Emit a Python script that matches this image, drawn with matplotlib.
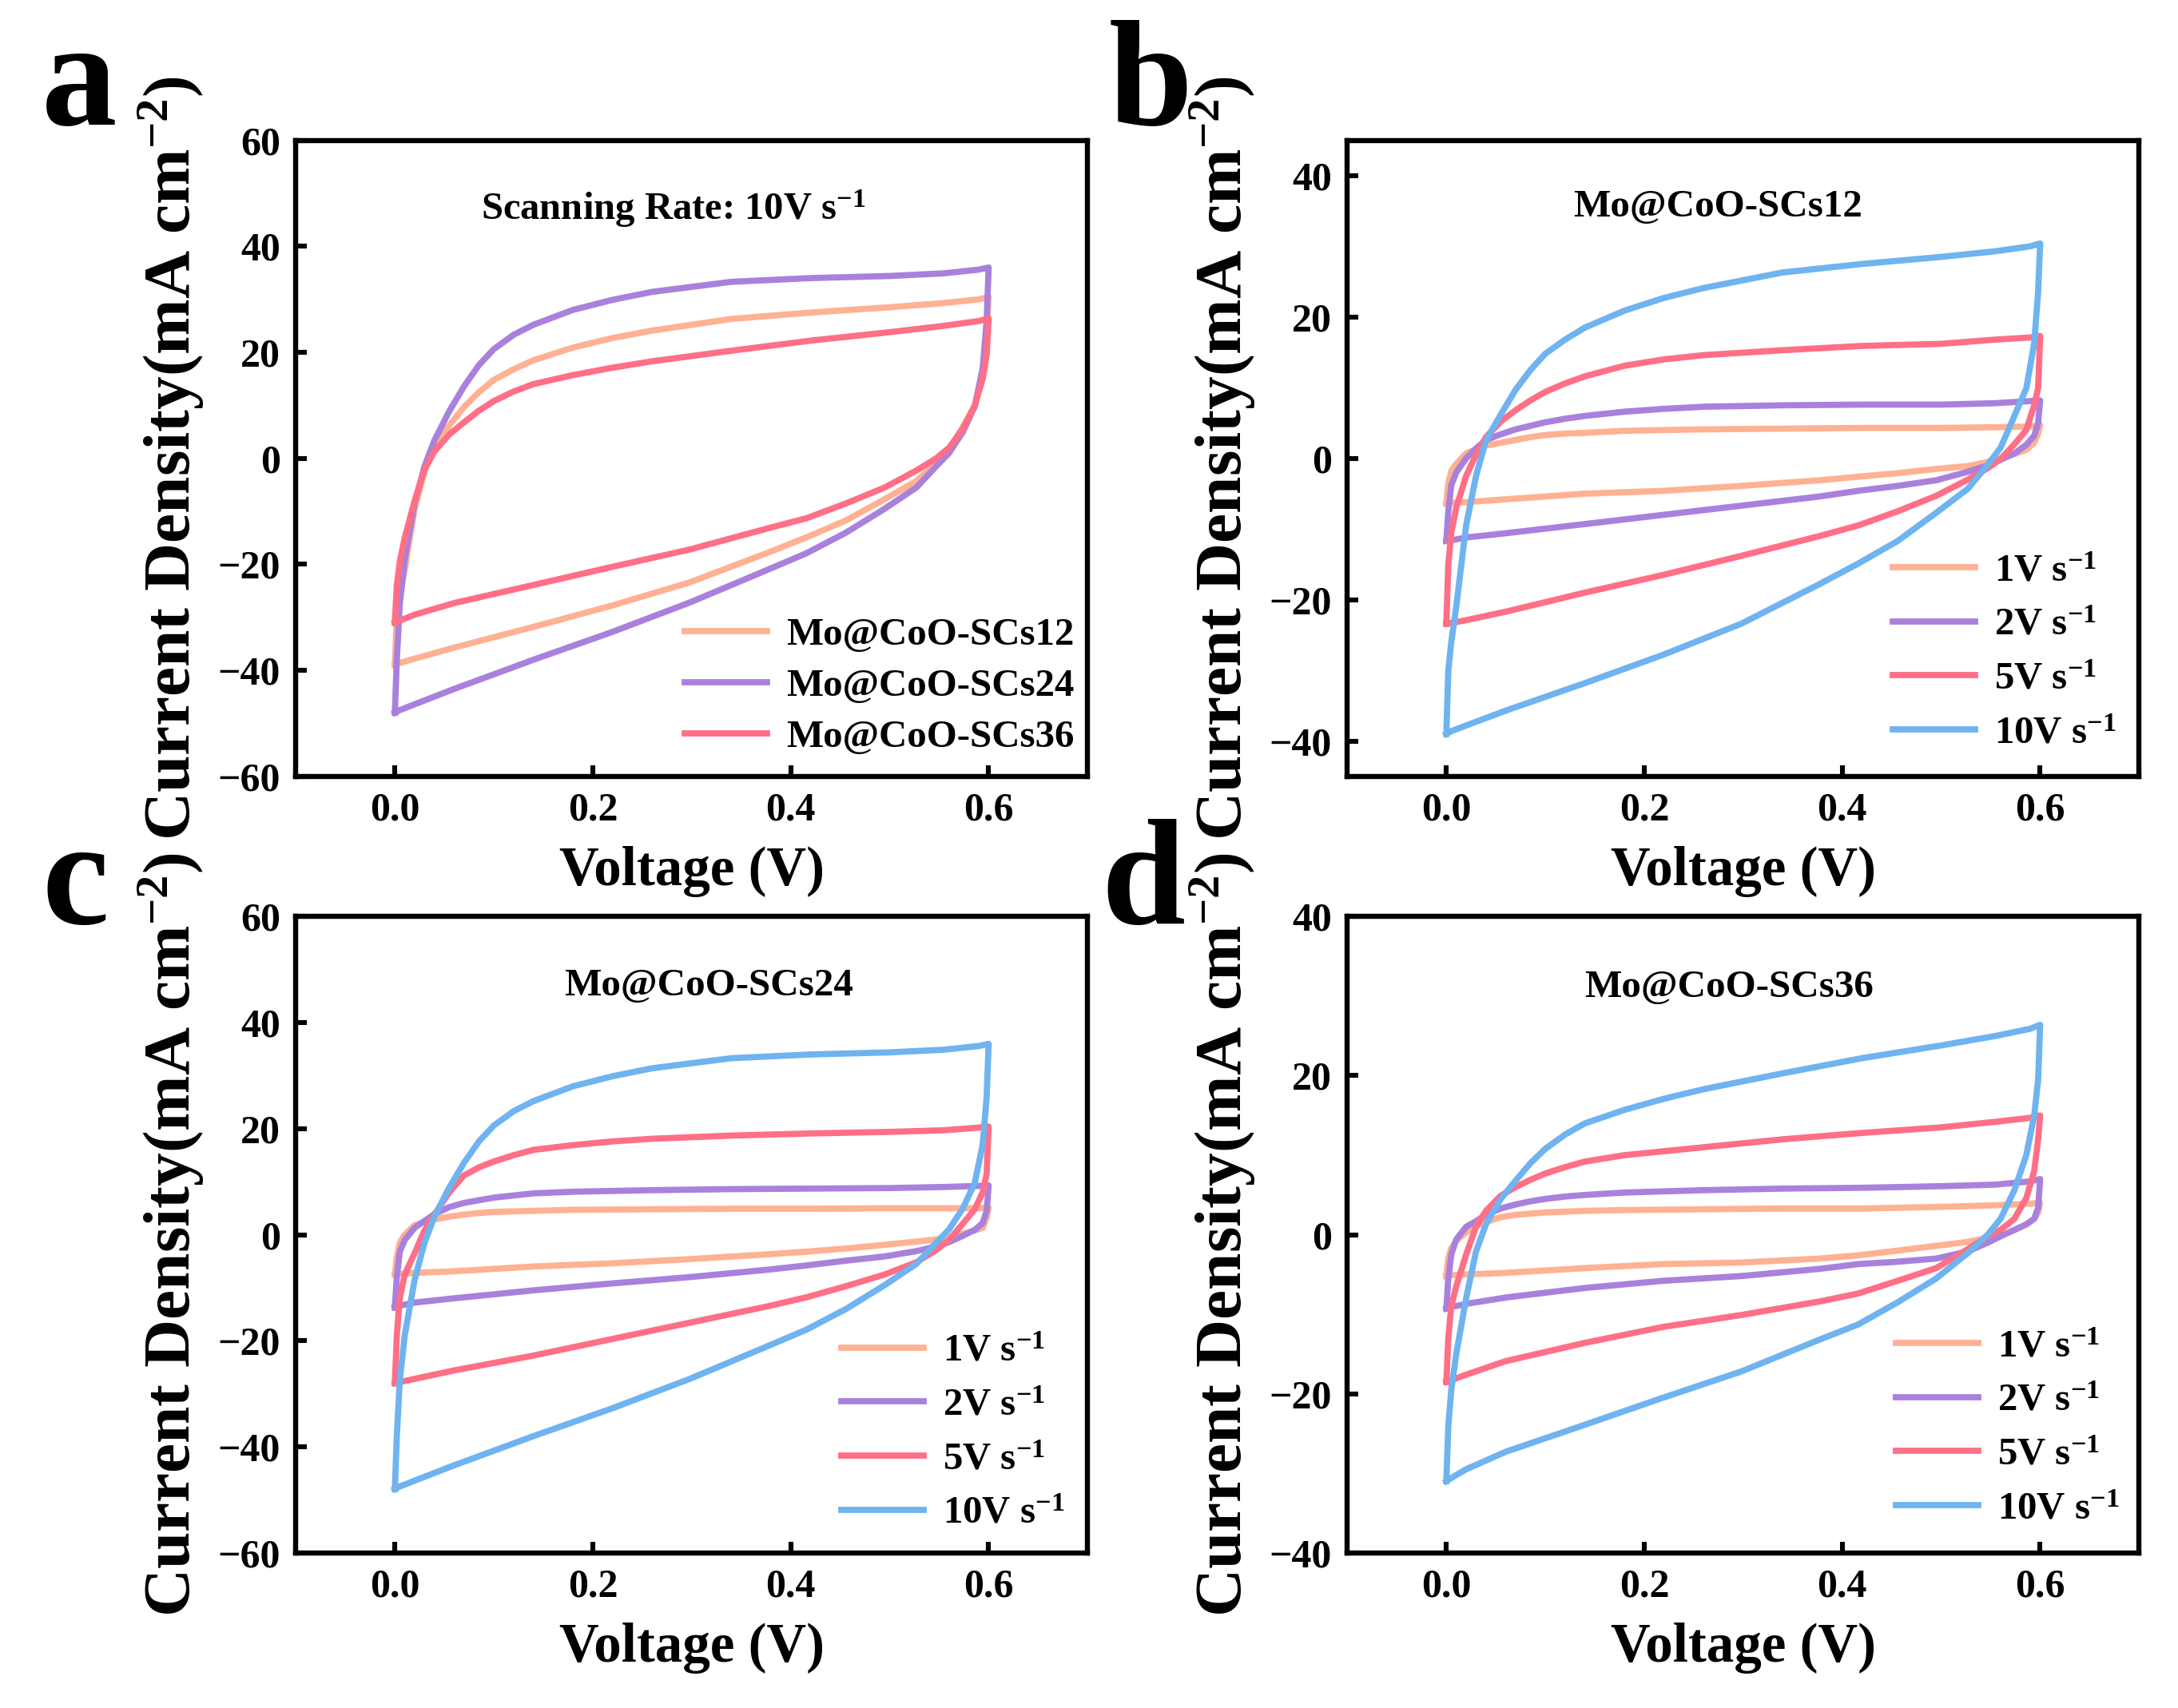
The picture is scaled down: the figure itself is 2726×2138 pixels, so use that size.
import matplotlib
matplotlib.use('Agg')
import matplotlib.pyplot as plt

plt.rcParams['font.family'] = ['Liberation Serif', 'DejaVu Serif']
plt.rcParams['font.weight'] = 'bold'
plt.rcParams['mathtext.default'] = 'regular'

# voltage grid the curves were read on
v_up = [0, 0.002, 0.005, 0.01, 0.02, 0.03, 0.04, 0.055, 0.07, 0.085, 0.1, 0.12, 0.14, 0.18, 0.22, 0.26, 0.34, 0.42, 0.5, 0.555, 0.59, 0.6]
v_down = [0.598, 0.594, 0.586, 0.574, 0.56, 0.547, 0.527, 0.495, 0.456, 0.416, 0.377, 0.298, 0.219, 0.14, 0.06, 0.02, 0.005, 0]

# Mo@CoO-SCs12
s12_1v_up = [-6.3, -3.5, -1.8, -0.8, 0.7, 1.3, 1.8, 2.2, 2.6, 3.0, 3.3, 3.5, 3.6, 3.9, 4.0, 4.1, 4.2, 4.3, 4.3, 4.4, 4.5, 4.7]
s12_1v_down = [3.5, 2.2, 1.2, 0.6, 0, -0.5, -1.1, -1.5, -2.1, -2.6, -3.1, -3.9, -4.6, -5, -5.8, -6.2, -6.3, -6.4]
s12_2v_up = [-11.7, -7.5, -3.8, -2, 0, 1.4, 2.6, 3.4, 4.1, 4.6, 5.1, 5.6, 6, 6.6, 7.0, 7.3, 7.5, 7.6, 7.6, 7.8, 8.1, 8.2]
s12_2v_down = [5, 3.2, 1.9, 0.7, -0.2, -1, -1.9, -3.1, -3.9, -4.6, -5.4, -6.7, -8, -9.3, -10.6, -11.2, -11.6, -11.7]
s12_5v_up = [-23.4, -15, -10.5, -7, -2.5, 0.5, 3, 5.2, 6.8, 8.2, 9.4, 10.6, 11.6, 13.1, 14.0, 14.6, 15.3, 15.9, 16.2, 16.8, 17.1, 17.3]
s12_5v_down = [10, 7.5, 4, 2, -0.1, -1.4, -3, -5.3, -7.5, -9.5, -11, -13.8, -16.5, -19, -21.7, -22.9, -23.3, -23.4]
s12_10v_up = [-39, -30, -26, -21, -9.5, -2.5, 2.5, 6.2, 9.7, 12.5, 14.8, 16.8, 18.5, 20.9, 22.7, 24.1, 26.3, 27.5, 28.5, 29.3, 30, 30.4]
s12_10v_down = [23.6, 16.3, 9.9, 6, 1.5, -0.9, -4.3, -7.7, -11.7, -14.9, -17.8, -23.4, -27.8, -31.8, -35.7, -37.8, -38.6, -39]

# Mo@CoO-SCs24
s24_1v_up = [-7.5, -4.3, -1.5, 0, 1.8, 2.4, 2.9, 3.4, 3.8, 4.1, 4.3, 4.4, 4.5, 4.7, 4.75, 4.8, 4.9, 4.9, 5, 5, 5, 5.1]
s24_1v_down = [3.2, 1.3, 0.8, 0.2, -0.5, -0.9, -1.3, -1.9, -2.6, -3.2, -3.7, -4.6, -5.4, -6, -6.9, -7.2, -7.4, -7.5]
s24_2v_up = [-13.7, -8, -3.2, -1, 1.3, 2.6, 3.9, 5.2, 6, 6.5, 7, 7.4, 7.8, 8.1, 8.25, 8.4, 8.6, 8.7, 8.8, 9, 9.2, 9.3]
s24_2v_down = [4.5, 2.2, 0.9, -0.2, -1.4, -2.2, -3.1, -4.1, -4.9, -5.8, -6.6, -8, -9.2, -10.5, -12, -12.8, -13.4, -13.7]
s24_5v_up = [-28, -19, -12, -7.5, -3.5, 0.8, 3.8, 8, 11.2, 12.7, 13.8, 15, 16, 16.9, 17.6, 18.1, 18.7, 19.1, 19.4, 19.7, 20.2, 20.4]
s24_5v_down = [11.5, 8, 4.8, 2.1, -1, -2.9, -5.2, -7.5, -9.7, -11.8, -13.5, -16.6, -19.7, -22.8, -25.6, -27.2, -27.8, -28]
s24_10v_up = [-48, -38, -27.5, -19, -8.5, -1.5, 3.4, 8.9, 13.6, 17.6, 20.6, 23.3, 25.2, 28, 29.9, 31.4, 33.3, 34, 34.4, 34.9, 35.6, 36]
s24_10v_down = [26, 17, 9.8, 5, 1, -1.5, -5.5, -9.5, -14, -17.9, -21, -27.2, -32.8, -38, -43.5, -46.4, -47.5, -48]

# Mo@CoO-SCs36
s36_1v_up = [-5.2, -3, -1.7, -0.8, 0.3, 1, 1.6, 2.2, 2.5, 2.65, 2.8, 2.9, 3, 3.1, 3.15, 3.2, 3.3, 3.3, 3.5, 3.7, 3.9, 4]
s36_1v_down = [2.8, 2, 1.3, 0.6, -0.1, -0.4, -0.9, -1.4, -2, -2.6, -3, -3.5, -3.7, -4.2, -4.8, -5, -5.1, -5.2]
s36_2v_up = [-9.3, -5.5, -2.5, -0.6, 1, 1.7, 2.5, 3.3, 3.8, 4.2, 4.5, 4.8, 5, 5.3, 5.45, 5.6, 5.8, 5.9, 6.1, 6.3, 6.7, 7]
s36_2v_down = [3.4, 2, 1.3, 0.6, -0.2, -1, -2.1, -3, -3.4, -3.7, -4.3, -5.2, -5.8, -6.7, -7.9, -8.7, -9.1, -9.3]
s36_5v_up = [-18.5, -13, -9, -6.5, -2.5, 1, 3, 4.9, 6, 6.9, 7.7, 8.5, 9.2, 10, 10.5, 11, 12, 12.8, 13.5, 14.2, 14.7, 15]
s36_5v_down = [12, 8, 4.6, 2, 0.6, -0.2, -1.8, -4.2, -5.8, -7.4, -8.4, -10.1, -11.6, -13.6, -15.9, -17.6, -18.3, -18.5]
s36_10v_up = [-31, -24, -19.5, -15, -8, -2.1, 1.3, 4.5, 6.8, 9, 10.8, 12.6, 14, 15.7, 17.1, 18.3, 20.3, 22.2, 23.8, 25, 25.9, 26.4]
s36_10v_down = [19.5, 15, 10, 5.6, 2, 0, -2.3, -5.5, -8.5, -11.3, -13.2, -17.2, -20.5, -23.9, -27.3, -29.5, -30.6, -31]

x_ticks = [0.0, 0.2, 0.4, 0.6]
ticks_60 = [-60, -40, -20, 0, 20, 40, 60]
ticks_40 = [-40, -20, 0, 20, 40]

orange = '#FFB193'
purple = '#A981DC'
red = '#FF6F86'
blue = '#6FB3F0'

names = ['Mo@CoO-SCs12', 'Mo@CoO-SCs24', 'Mo@CoO-SCs36']
rate_labels = ['1V s$^{-1}$', '2V s$^{-1}$', '5V s$^{-1}$', '10V s$^{-1}$']
rate_colors = [orange, purple, red, blue]

W, H = 2726, 2138
S = 2726 / 1568  # preview pixels to real pixels

fig = plt.figure(figsize=(W / 200, H / 200), dpi=200)


#Making one panel, box given in preview pixels
def makePanel(left, top, ymax, yticks, letter, letterx, lettery):
    ax = fig.add_axes([left * S / W, 1 - (top + 458) * S / H, 570 * S / W, 458 * S / H])
    ax.set_xlim(-0.1, 0.7)
    ax.set_ylim(-ymax, ymax)
    ax.set_xticks(x_ticks)
    ax.set_yticks(yticks)
    ax.tick_params(direction='in', length=5, width=2.2, labelsize=18, pad=7)
    for s in ax.spines.values():
        s.set_linewidth(2.3)
    ax.set_xlabel('Voltage (V)', fontsize=24.8, fontweight='bold', labelpad=8)
    ax.set_ylabel('Current Density(mA cm$^{-2}$)', fontsize=30, fontweight='bold')
    ax.yaxis.set_label_coords(-0.113, 0.5)
    fig.text(letterx * S / W, 1 - lettery * S / H, letter, fontsize=68, fontweight='bold',
             ha='left', va='baseline')
    return ax


#Drawing the up and down branch as one closed curve
def drawLoop(ax, up, down, color, label):
    ax.plot(v_up + v_down, up + down, color=color, lw=2.8, label=label, solid_joinstyle='round')


def addLegend(ax, x, y, spacing):
    ax.legend(loc='center left', bbox_to_anchor=(x, y), frameon=False, fontsize=17.6,
              labelspacing=spacing, handlelength=2.1, handletextpad=0.5, borderpad=0, borderaxespad=0)


# a
ax = makePanel(213, 101, 60, ticks_60, 'a', 30, 90)
drawLoop(ax, s12_10v_up, s12_10v_down, orange, names[0])
drawLoop(ax, s24_10v_up, s24_10v_down, purple, names[1])
drawLoop(ax, s36_10v_up, s36_10v_down, red, names[2])
ax.text(0.477, 0.892, 'Scanning Rate: 10V s$^{-1}$', transform=ax.transAxes, fontsize=17.5, ha='center', va='center')
addLegend(ax, 0.491, 0.142, 0.40)

# b
ax = makePanel(970, 101, 45, ticks_40, 'b', 798, 90)
b_up = [s12_1v_up, s12_2v_up, s12_5v_up, s12_10v_up]
b_down = [s12_1v_down, s12_2v_down, s12_5v_down, s12_10v_down]
for i in range(4):
    drawLoop(ax, b_up[i], b_down[i], rate_colors[i], rate_labels[i])
ax.text(0.468, 0.895, names[0], transform=ax.transAxes, fontsize=17.7, ha='center', va='center')
addLegend(ax, 0.689, 0.195, 0.48)

# c
ax = makePanel(213, 660, 60, ticks_60, 'c', 30, 665)
c_up = [s24_1v_up, s24_2v_up, s24_5v_up, s24_10v_up]
c_down = [s24_1v_down, s24_2v_down, s24_5v_down, s24_10v_down]
for i in range(4):
    drawLoop(ax, c_up[i], c_down[i], rate_colors[i], rate_labels[i])
ax.text(0.521, 0.891, names[1], transform=ax.transAxes, fontsize=17.7, ha='center', va='center')
addLegend(ax, 0.689, 0.189, 0.48)

# d
ax = makePanel(970, 660, 40, ticks_40, 'd', 793, 665)
d_up = [s36_1v_up, s36_2v_up, s36_5v_up, s36_10v_up]
d_down = [s36_1v_down, s36_2v_down, s36_5v_down, s36_10v_down]
for i in range(4):
    drawLoop(ax, d_up[i], d_down[i], rate_colors[i], rate_labels[i])
ax.text(0.482, 0.889, names[2], transform=ax.transAxes, fontsize=17.7, ha='center', va='center')
addLegend(ax, 0.693, 0.196, 0.48)

fig.savefig('out.png', dpi=200)
